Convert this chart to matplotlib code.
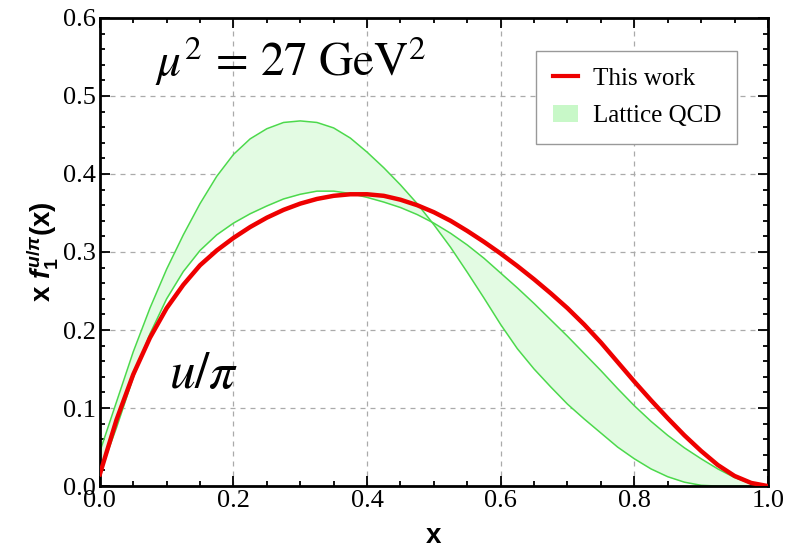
import numpy as np
import matplotlib
matplotlib.use("Agg")
import matplotlib.pyplot as plt
from matplotlib.patches import Patch
from matplotlib.lines import Line2D
from matplotlib.ticker import MultipleLocator


# values, x step 0.025
x_pts = [0.000, 0.025, 0.050, 0.075, 0.100, 0.125, 0.150, 0.175, 0.200, 0.225,
         0.250, 0.275, 0.300, 0.325, 0.350, 0.375, 0.400, 0.425, 0.450, 0.475,
         0.500, 0.525, 0.550, 0.575, 0.600, 0.625, 0.650, 0.675, 0.700, 0.725,
         0.750, 0.775, 0.800, 0.825, 0.850, 0.875, 0.900, 0.925, 0.950, 0.975,
         1.000]

this_work = [0.015, 0.085, 0.143, 0.190, 0.228, 0.258, 0.283, 0.302, 0.318, 0.332,
             0.344, 0.354, 0.362, 0.368, 0.372, 0.374, 0.374, 0.372, 0.367, 0.360,
             0.351, 0.340, 0.327, 0.313, 0.298, 0.282, 0.265, 0.247, 0.228, 0.207,
             0.184, 0.159, 0.134, 0.110, 0.087, 0.065, 0.045, 0.027, 0.013, 0.004,
             0.000]

lattice_a = [0.044, 0.108, 0.172, 0.228, 0.278, 0.322, 0.362, 0.397, 0.425, 0.445,
             0.458, 0.466, 0.468, 0.466, 0.459, 0.446, 0.428, 0.408, 0.386, 0.362,
             0.335, 0.306, 0.274, 0.241, 0.207, 0.176, 0.150, 0.127, 0.105, 0.086,
             0.068, 0.050, 0.035, 0.022, 0.012, 0.005, 0.001, 0.000, 0.000, 0.000,
             0.000]

lattice_b = [0.016, 0.075, 0.139, 0.195, 0.240, 0.275, 0.302, 0.322, 0.337, 0.349,
             0.359, 0.368, 0.374, 0.378, 0.378, 0.375, 0.370, 0.364, 0.357, 0.348,
             0.337, 0.324, 0.309, 0.292, 0.273, 0.254, 0.234, 0.213, 0.192, 0.170,
             0.148, 0.125, 0.103, 0.083, 0.065, 0.049, 0.035, 0.022, 0.011, 0.003,
             0.000]

plt.rcParams['font.family'] = ['Liberation Serif', 'DejaVu Serif']
plt.rcParams['mathtext.fontset'] = 'stix'
plt.rcParams['mathtext.rm'] = 'Liberation Sans:bold'
plt.rcParams['mathtext.it'] = 'Liberation Sans:bold:italic'
plt.rcParams['mathtext.bf'] = 'Liberation Sans:bold'

fig = plt.figure(figsize=(7.86, 5.6), dpi=100)
ax = fig.add_axes([0.127, 0.132, 0.850, 0.836])

green_edge = '#4cd94c'
ax.fill_between(x_pts, lattice_a, lattice_b, color='#e3fbe3', lw=0, zorder=1)
ax.plot(x_pts, lattice_a, color=green_edge, lw=1.1, zorder=2)
ax.plot(x_pts, lattice_b, color=green_edge, lw=1.1, zorder=2)
ax.plot(x_pts, this_work, color='#ee0000', lw=3.2, zorder=3, solid_joinstyle='round')

ax.set_xlim(0, 1)
ax.set_ylim(0, 0.6)
ax.xaxis.set_major_locator(MultipleLocator(0.2))
ax.xaxis.set_minor_locator(MultipleLocator(0.05))
ax.yaxis.set_major_locator(MultipleLocator(0.1))
ax.yaxis.set_minor_locator(MultipleLocator(0.02))
ax.set_xticklabels([f"{v:.1f}" for v in ax.get_xticks()])
ax.set_yticklabels([f"{v:.1f}" for v in ax.get_yticks()])

ax.tick_params(which='both', direction='in', top=True, right=True, width=1.3)
ax.tick_params(which='major', length=7, labelsize=19, pad=3)
ax.tick_params(which='minor', length=3.5)
for s in ax.spines.values():
  s.set_linewidth(2.0)

ax.grid(True, which='major', color='#aaaaaa', lw=0.9, ls=(0, (4, 4)))
ax.set_axisbelow(True)

ax.set_xlabel("x", family='Liberation Sans', weight='bold', fontsize=20, labelpad=8)
ax.set_ylabel(r"x $f_1^{u/\pi}$(x)", family='Liberation Sans', weight='bold',
              fontsize=20, math_fontfamily='custom', labelpad=2)

ax.text(0.285, 0.545, r"$\mu^2\,=\,27\ \mathrm{GeV}^2$", fontsize=34,
        math_fontfamily='stix', ha='center', va='center')
ax.text(0.155, 0.142, r"$u/\pi$", fontsize=37, math_fontfamily='stix',
        ha='center', va='center')

handles = [Line2D([], [], color='#ee0000', lw=3),
           Patch(facecolor='#c8f8c8', edgecolor='none')]
leg = ax.legend(handles, ["This work", "Lattice QCD"], loc='upper right',
                bbox_to_anchor=(0.954, 0.929), borderaxespad=0, fontsize=18,
                fancybox=False, framealpha=1, edgecolor='#999999',
                handlelength=1.0, handletextpad=0.6, borderpad=0.65, labelspacing=0.6)
leg.get_frame().set_linewidth(1.0)

fig.savefig("out.png", dpi=100)
